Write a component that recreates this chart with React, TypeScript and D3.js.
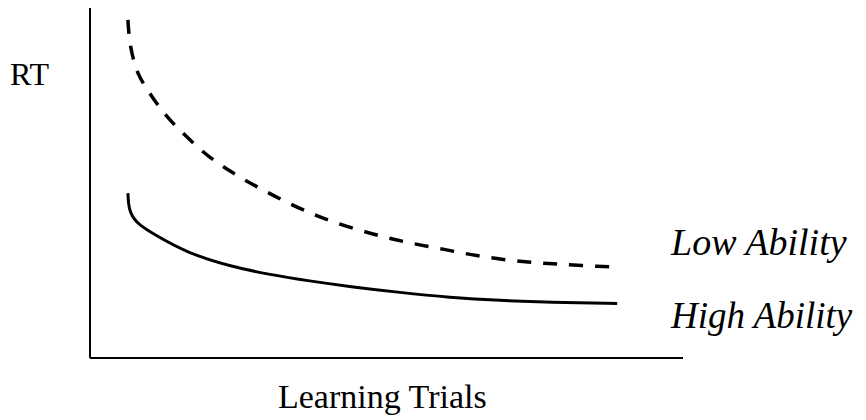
import React from "react";
import * as d3 from "d3";

const lowTrials = [6.4, 6.8, 8.1, 10.5, 13.2, 16.5, 20.2, 24.1, 28.2, 32.5, 36.8, 41.0, 45.9, 50.3, 54.8, 59.5, 64.1, 68.6, 73.4, 78.1, 83.0, 88.9];
const lowRT = [96.6, 89.5, 81.4, 74.6, 68.6, 62.9, 57.4, 52.9, 48.9, 45.1, 41.7, 38.9, 36.3, 34.3, 32.6, 31.1, 29.6, 28.4, 27.5, 26.9, 26.4, 26.0];
const highTrials = [6.4, 6.5, 7.6, 10.6, 16.4, 23.6, 30.4, 37.0, 43.8, 52.3, 60.7, 69.1, 77.6, 88.9];
const highRT = [47.1, 42.5, 38.8, 35.5, 30.0, 26.2, 23.8, 22.0, 20.4, 18.7, 17.3, 16.4, 15.9, 15.6];
const seriesLabels = ["Low Ability", "High Ability"];
const xTitle = "Learning Trials";
const yTitle = "RT";

export default function App() {
  const W = 866, H = 420;
  const x = d3.scaleLinear().domain([0, 100]).range([90, 683]);
  const y = d3.scaleLinear().domain([0, 100]).range([358, 8]);
  const lineLow = d3.line<[number, number]>().x(d => x(d[0])).y(d => y(d[1])).curve(d3.curveCatmullRom.alpha(0.5));
  const lineHigh = d3.line<[number, number]>().x(d => x(d[0])).y(d => y(d[1])).curve(d3.curveBasis);
  const low = lowTrials.map((t, i) => [t, lowRT[i]] as [number, number]);
  const high = highTrials.map((t, i) => [t, highRT[i]] as [number, number]);
  const font = "'Liberation Serif', 'Times New Roman', serif";
  return (
    <svg width={W} height={H} style={{ position: "absolute", left: 0, top: 0, background: "#fff" }}>
      <line x1={x(0)} y1={y(0)} x2={x(0)} y2={y(100)} stroke="#000" strokeWidth={2} />
      <line x1={x(0)} y1={y(0)} x2={x(100)} y2={y(0)} stroke="#000" strokeWidth={2} />
      <path d={lineLow(low) || ""} fill="none" stroke="#000" strokeWidth={3.5} strokeDasharray="14 12" />
      <path d={lineHigh(high) || ""} fill="none" stroke="#000" strokeWidth={3} />
      <text x={10} y={85} fontFamily={font} fontSize={32}>{yTitle}</text>
      <text x={671} y={255} fontFamily={font} fontSize={38} fontStyle="italic">{seriesLabels[0]}</text>
      <text x={671} y={328} fontFamily={font} fontSize={37} fontStyle="italic">{seriesLabels[1]}</text>
      <text x={278} y={408} fontFamily={font} fontSize={34}>{xTitle}</text>
    </svg>
  );
}
